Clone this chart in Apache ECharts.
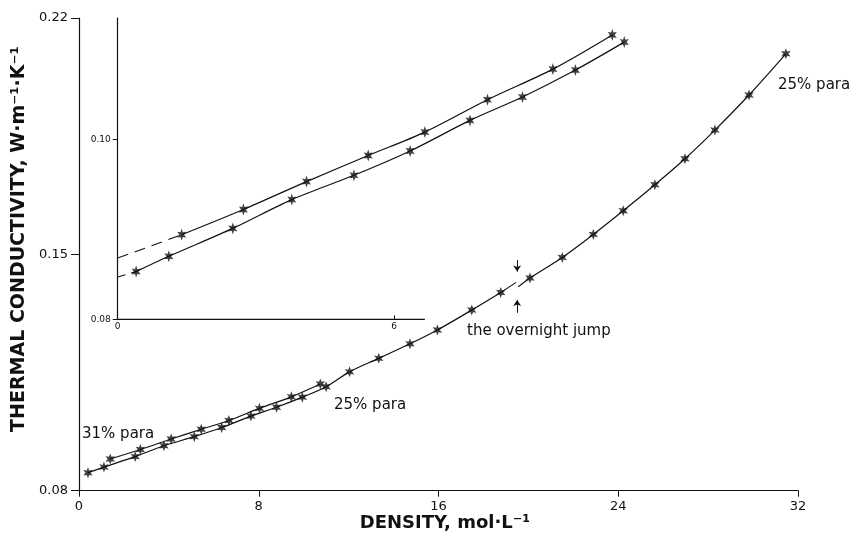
<!DOCTYPE html>
<html><head><meta charset="utf-8">
<script src="https://cdn.jsdelivr.net/npm/echarts@6/dist/echarts.min.js"></script>
<style>html,body{margin:0;padding:0;background:#fff}#c{width:857px;height:538px}</style>
</head><body><div id="c"></div>
<script>
// ---- data ----
const upper31Density = [1.39, 2.73, 4.10, 5.44, 6.67, 8.03, 9.45, 10.74];
const upper31Cond    = [0.0894, 0.0922, 0.0953, 0.0982, 0.1008, 0.1044, 0.1078, 0.1116];
const para25Density  = [0.40, 1.11, 2.50, 3.78, 5.13, 6.35, 7.65, 8.79, 9.94, 11.00, 12.04, 13.34, 14.73, 15.95, 17.48, 18.77,
                        20.07, 21.51, 22.89, 24.22, 25.63, 26.97, 28.30, 29.82, 31.46];
const para25Cond     = [0.0853, 0.0870, 0.0901, 0.0933, 0.0960, 0.0987, 0.1021, 0.1047, 0.1077, 0.1108, 0.1152, 0.1192, 0.1235, 0.1276, 0.1335, 0.1387,
                        0.1430, 0.1491, 0.1559, 0.1629, 0.1706, 0.1783, 0.1868, 0.1972, 0.2094];
const jumpIndex = 16;                 // first point after the overnight jump
const curveEndBeforeJump = [19.45, 0.1417];
const curveStartAfterJump = [19.55, 0.1404];
const jumpDownArrow = [[19.5, 0.1483], [19.5, 0.1449]];
const jumpUpArrow   = [[19.5, 0.1327], [19.5, 0.1365]];
const insetCount = 10;                // points of the 25% series shown in the inset
const insetExtrapUpperStart = [0, 0.0868];
const insetExtrapLowerStart = [0, 0.0847];
const insetAxisEnd = 6.67;            // the inset x axis line stops here
const insetXMax = 11.2;
const mainXTicks = [0, 8, 16, 24, 32];
const mainYTicks = [0.08, 0.15, 0.22];
const insetXTicks = [0, 6];
const insetYTicks = [0.08, 0.10];

// ---- helpers ----
const zip = (xs, ys) => xs.map((x, i) => [x, ys[i]]);
const upper31 = zip(upper31Density, upper31Cond);
const para25 = zip(para25Density, para25Cond);
const para25A = para25.slice(0, jumpIndex).concat([curveEndBeforeJump]);
const para25B = [curveStartAfterJump].concat(para25.slice(jumpIndex));
const insetLower = para25.slice(0, insetCount);

function starPath(n, R, r) {
  let d = '';
  for (let k = 0; k < 2 * n; k++) {
    const a = Math.PI * k / n - Math.PI / 2;
    const rad = k % 2 === 0 ? R : r;
    d += (k === 0 ? 'M' : 'L') + (rad * Math.cos(a)).toFixed(2) + ',' + (rad * Math.sin(a)).toFixed(2) + ' ';
  }
  return 'path://' + d + 'Z';
}
const STAR = starPath(6, 10, 4.6);
const INK = '#111';
const FONT = '"DejaVu Sans", sans-serif';

const lineBase = { type: 'line', showSymbol: false, symbol: 'none', smooth: 0.3, silent: true,
  lineStyle: { color: INK, width: 1.2 }, animation: false };

const chart = echarts.init(document.getElementById('c'));
chart.setOption({
  animation: false,
  backgroundColor: '#fff',
  grid: [
    { left: 79, top: 18, width: 719, height: 472.7 },
    { left: 117.7, top: 18, width: 46.05 * insetXMax, height: 301.3 }
  ],
  xAxis: [
    { gridIndex: 0, type: 'value', min: 0, max: 32, interval: 8,
      axisLine: { lineStyle: { color: INK, width: 1.2 } },
      axisTick: { length: 6, lineStyle: { color: INK }, customValues: mainXTicks },
      axisLabel: { color: INK, fontFamily: FONT, fontSize: 13, margin: 9, customValues: mainXTicks },
      splitLine: { show: false } },
    { gridIndex: 1, type: 'value', min: 0, max: insetXMax,
      axisLine: { show: false },
      axisTick: { inside: true, length: 4, lineStyle: { color: INK }, customValues: [6] },
      axisLabel: { color: INK, fontFamily: FONT, fontSize: 9, margin: 3, customValues: insetXTicks },
      splitLine: { show: false } }
  ],
  yAxis: [
    { gridIndex: 0, type: 'value', min: 0.08, max: 0.22,
      axisLine: { show: true, lineStyle: { color: INK, width: 1.2 } },
      axisTick: { show: true, length: 8, lineStyle: { color: INK }, customValues: mainYTicks },
      axisLabel: { color: INK, fontFamily: FONT, fontSize: 13, margin: 11, customValues: mainYTicks,
                   formatter: v => v.toFixed(2) },
      splitLine: { show: false } },
    { gridIndex: 1, type: 'value', min: 0.08, max: 0.11348,
      axisLine: { show: true, lineStyle: { color: INK, width: 1.2 } },
      axisTick: { show: true, length: 5, lineStyle: { color: INK }, customValues: insetYTicks },
      axisLabel: { color: INK, fontFamily: FONT, fontSize: 9, margin: 7, customValues: insetYTicks,
                   formatter: v => v.toFixed(2) },
      splitLine: { show: false } }
  ],
  series: [
    Object.assign({}, lineBase, { xAxisIndex: 0, yAxisIndex: 0, data: upper31 }),
    Object.assign({}, lineBase, { xAxisIndex: 0, yAxisIndex: 0, data: para25A }),
    Object.assign({}, lineBase, { xAxisIndex: 0, yAxisIndex: 0, data: para25B,
      markLine: { silent: true, symbol: ['none', 'arrow'], symbolSize: 6,
        label: { show: false }, lineStyle: { color: INK, width: 1, type: 'solid' },
        data: [
          [{ coord: jumpDownArrow[0] }, { coord: jumpDownArrow[1] }],
          [{ coord: jumpUpArrow[0] }, { coord: jumpUpArrow[1] }]
        ] } }),
    { type: 'scatter', xAxisIndex: 0, yAxisIndex: 0, silent: true, symbol: STAR, symbolSize: 11, symbolKeepAspect: true,
      itemStyle: { color: INK }, data: upper31.concat(para25) },

    // inset axis line (stops short of the data)
    Object.assign({}, lineBase, { xAxisIndex: 1, yAxisIndex: 1, smooth: false,
      lineStyle: { color: INK, width: 1.2 }, data: [[0, 0.08], [insetAxisEnd, 0.08]] }),
    Object.assign({}, lineBase, { xAxisIndex: 1, yAxisIndex: 1, data: upper31 }),
    Object.assign({}, lineBase, { xAxisIndex: 1, yAxisIndex: 1, data: insetLower }),
    Object.assign({}, lineBase, { xAxisIndex: 1, yAxisIndex: 1, smooth: false,
      lineStyle: { color: INK, width: 1.1, type: [11, 7] }, data: [insetExtrapUpperStart, upper31[0]] }),
    Object.assign({}, lineBase, { xAxisIndex: 1, yAxisIndex: 1, smooth: false,
      lineStyle: { color: INK, width: 1.1, type: [8, 6] }, data: [insetExtrapLowerStart, insetLower[0]] }),
    { type: 'scatter', xAxisIndex: 1, yAxisIndex: 1, silent: true, symbol: STAR, symbolSize: [9, 12],
      itemStyle: { color: INK }, data: upper31.concat(insetLower) }
  ],
  graphic: [
    { type: 'text', x: 445, y: 523, silent: true,
      style: { text: 'DENSITY, mol·L⁻¹', font: 'bold 18px ' + FONT, fill: INK,
               textAlign: 'center', textVerticalAlign: 'middle', align: 'center', verticalAlign: 'middle' } },
    { type: 'text', x: 19, y: 239, rotation: Math.PI / 2, silent: true,
      style: { text: 'THERMAL CONDUCTIVITY, W·m⁻¹·K⁻¹', font: 'bold 19px ' + FONT, fill: INK,
               textAlign: 'center', textVerticalAlign: 'middle', align: 'center', verticalAlign: 'middle' } },
    { type: 'text', x: 82, y: 434, silent: true,
      style: { text: '31% para', font: '15px ' + FONT, fill: INK,
               textAlign: 'left', textVerticalAlign: 'middle', align: 'left', verticalAlign: 'middle' } },
    { type: 'text', x: 334, y: 405, silent: true,
      style: { text: '25% para', font: '15px ' + FONT, fill: INK,
               textAlign: 'left', textVerticalAlign: 'middle', align: 'left', verticalAlign: 'middle' } },
    { type: 'text', x: 778, y: 85, silent: true,
      style: { text: '25% para', font: '15px ' + FONT, fill: INK,
               textAlign: 'left', textVerticalAlign: 'middle', align: 'left', verticalAlign: 'middle' } },
    { type: 'text', x: 467, y: 331, silent: true,
      style: { text: 'the overnight jump', font: '15px ' + FONT, fill: INK,
               textAlign: 'left', textVerticalAlign: 'middle', align: 'left', verticalAlign: 'middle' } }
  ]
});
</script></body></html>
